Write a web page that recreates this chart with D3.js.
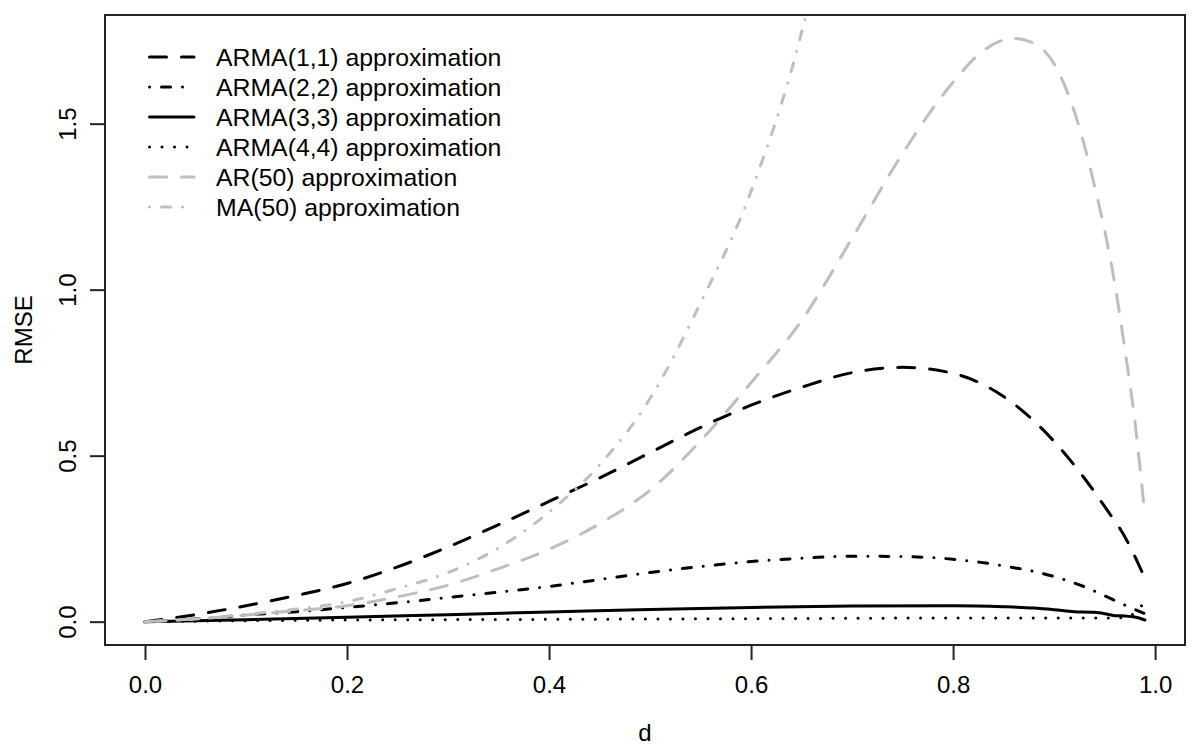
<!DOCTYPE html>
<html>
<head>
<meta charset="utf-8">
<script src="https://cdn.jsdelivr.net/npm/d3@7"></script>
<style>
  body { margin: 0; background: #fff; }
  text { font-family: "Liberation Sans", Arial, Helvetica, sans-serif; }
</style>
</head>
<body>
<svg id="chart" width="1200" height="750"></svg>
<script>
// Data: [d, RMSE]
const arma11 = [[0,0],[0.05,0.021],[0.1,0.048],[0.15,0.079],[0.2,0.115],[0.25,0.165],[0.3,0.225],[0.35,0.292],[0.4,0.362],[0.45,0.433],[0.5,0.509],[0.55,0.585],[0.6,0.652],[0.65,0.706],[0.7,0.75],[0.75,0.766],[0.8,0.748],[0.85,0.678],[0.9,0.543],[0.93,0.432],[0.95,0.347],[0.97,0.256],[0.99,0.13]];
const arma22 = [[0,0],[0.05,0.008],[0.1,0.02],[0.15,0.03],[0.2,0.043],[0.25,0.057],[0.3,0.073],[0.35,0.089],[0.4,0.106],[0.45,0.127],[0.5,0.148],[0.55,0.166],[0.6,0.181],[0.65,0.191],[0.7,0.197],[0.75,0.196],[0.8,0.188],[0.85,0.168],[0.9,0.136],[0.93,0.105],[0.95,0.078],[0.97,0.05],[0.99,0.024]];
const arma33 = [[0,0],[0.1,0.006],[0.2,0.013],[0.3,0.021],[0.4,0.029],[0.5,0.037],[0.6,0.043],[0.7,0.047],[0.8,0.048],[0.85,0.045],[0.88,0.041],[0.9,0.036],[0.92,0.03],[0.94,0.028],[0.95,0.024],[0.96,0.018],[0.97,0.017],[0.98,0.014],[0.99,0.005]];
const arma44 = [[0,0],[0.1,0.003],[0.2,0.005],[0.4,0.007],[0.6,0.009],[0.8,0.011],[0.95,0.011],[0.97,0.012],[0.99,0.06]];
const ar50 = [[0,0],[0.05,0.008],[0.1,0.02],[0.15,0.033],[0.2,0.048],[0.25,0.075],[0.3,0.11],[0.35,0.16],[0.4,0.218],[0.45,0.295],[0.5,0.396],[0.55,0.545],[0.6,0.72],[0.65,0.907],[0.7,1.155],[0.75,1.41],[0.8,1.625],[0.83,1.72],[0.86,1.757],[0.88,1.742],[0.9,1.68],[0.92,1.537],[0.94,1.313],[0.96,1.02],[0.97,0.822],[0.98,0.603],[0.99,0.316]];
const ma50 = [[0,0],[0.05,0.008],[0.1,0.022],[0.15,0.038],[0.2,0.06],[0.25,0.1],[0.3,0.148],[0.35,0.222],[0.4,0.33],[0.45,0.472],[0.5,0.672],[0.55,0.96],[0.6,1.296],[0.65,1.775],[0.66,1.9]];

const seriesNames = ["ARMA(1,1) approximation","ARMA(2,2) approximation","ARMA(3,3) approximation","ARMA(4,4) approximation","AR(50) approximation","MA(50) approximation"];
const xTicks = [0, 0.2, 0.4, 0.6, 0.8, 1.0];
const yTicks = [0, 0.5, 1.0, 1.5];

// line styles (R lty 2,4,1,3,2,4 with black / grey)
const styles = [
  { color: "#000", dash: "17,15" },
  { color: "#000", dash: "0.01,12,9,12" },
  { color: "#000", dash: null },
  { color: "#000", dash: "0.01,12.5" },
  { color: "#bebebe", dash: "17,15" },
  { color: "#bebebe", dash: "0.01,12,9,12" }
];
const allSeries = [arma11, arma22, arma33, arma44, ar50, ma50];

// plot region
const plotLeft = 105, plotRight = 1185, plotTop = 15, plotBottom = 645;

const svg = d3.select("#chart");

// R style limits: data range + 4%
const xMax = d3.max(arma11, d => d[0]);
const yMax = d3.max(ar50, d => d[1]);
const xScale = d3.scaleLinear()
  .domain([-0.04 * xMax, xMax * 1.04])
  .range([plotLeft, plotRight]);
const yScale = d3.scaleLinear()
  .domain([-0.04 * yMax, yMax * 1.04])
  .range([plotBottom, plotTop]);

svg.append("clipPath").attr("id", "plotclip")
  .append("rect")
  .attr("x", plotLeft).attr("y", plotTop)
  .attr("width", plotRight - plotLeft).attr("height", plotBottom - plotTop);

const line = d3.line()
  .x(d => xScale(d[0]))
  .y(d => yScale(d[1]))
  .curve(d3.curveMonotoneX);

// curves
const curves = svg.append("g").attr("clip-path", "url(#plotclip)");
allSeries.forEach((s, i) => {
  curves.append("path")
    .attr("d", line(s))
    .attr("fill", "none")
    .attr("stroke", styles[i].color)
    .attr("stroke-width", 3)
    .attr("stroke-linecap", "round")
    .attr("stroke-linejoin", "round")
    .attr("stroke-dasharray", styles[i].dash);
});

// box
svg.append("rect")
  .attr("x", plotLeft).attr("y", plotTop)
  .attr("width", plotRight - plotLeft).attr("height", plotBottom - plotTop)
  .attr("fill", "none")
  .attr("stroke", "#222")
  .attr("stroke-width", 2);

// x axis
const xAxis = d3.axisBottom(xScale)
  .tickValues(xTicks)
  .tickFormat(d3.format(".1f"))
  .tickSize(15)
  .tickPadding(16);
const gx = svg.append("g")
  .attr("transform", `translate(0, ${plotBottom})`)
  .call(xAxis);
gx.select(".domain").remove();
gx.append("line")
  .attr("x1", xScale(xTicks[0])).attr("x2", xScale(xTicks[xTicks.length - 1]))
  .attr("stroke", "#222").attr("stroke-width", 2);
gx.selectAll(".tick line").attr("stroke", "#222").attr("stroke-width", 2);
gx.selectAll("text").attr("font-size", 24).attr("fill", "#000")
  .style("font-family", "'Liberation Sans', Arial, sans-serif");

// y axis (labels parallel to axis)
const yAxis = d3.axisLeft(yScale)
  .tickValues(yTicks)
  .tickFormat(d3.format(".1f"))
  .tickSize(15);
const gy = svg.append("g")
  .attr("transform", `translate(${plotLeft}, 0)`)
  .call(yAxis);
gy.select(".domain").remove();
gy.append("line")
  .attr("y1", yScale(yTicks[0])).attr("y2", yScale(yTicks[yTicks.length - 1]))
  .attr("stroke", "#222").attr("stroke-width", 2);
gy.selectAll(".tick line").attr("stroke", "#222").attr("stroke-width", 2);
gy.selectAll("text")
  .attr("x", 0).attr("y", -29).attr("dy", 0)
  .attr("text-anchor", "middle")
  .attr("transform", "rotate(-90)")
  .attr("font-size", 24).attr("fill", "#000")
  .style("font-family", "'Liberation Sans', Arial, sans-serif");

// axis titles
svg.append("text")
  .attr("x", (plotLeft + plotRight) / 2).attr("y", 741)
  .attr("text-anchor", "middle")
  .attr("font-size", 24)
  .text("d");
svg.append("text")
  .attr("transform", `translate(32, ${(plotTop + plotBottom) / 2}) rotate(-90)`)
  .attr("text-anchor", "middle")
  .attr("font-size", 24)
  .text("RMSE");

// legend
const legend = svg.append("g");
seriesNames.forEach((name, i) => {
  const y = 57 + i * 30;
  legend.append("line")
    .attr("x1", 149.5).attr("x2", 194)
    .attr("y1", y).attr("y2", y)
    .attr("stroke", styles[i].color)
    .attr("stroke-width", 3)
    .attr("stroke-linecap", "round")
    .attr("stroke-dasharray", styles[i].dash);
  legend.append("text")
    .attr("x", 216).attr("y", y)
    .attr("dy", "0.35em")
    .attr("font-size", 24.8)
    .text(name);
});
</script>
</body>
</html>
